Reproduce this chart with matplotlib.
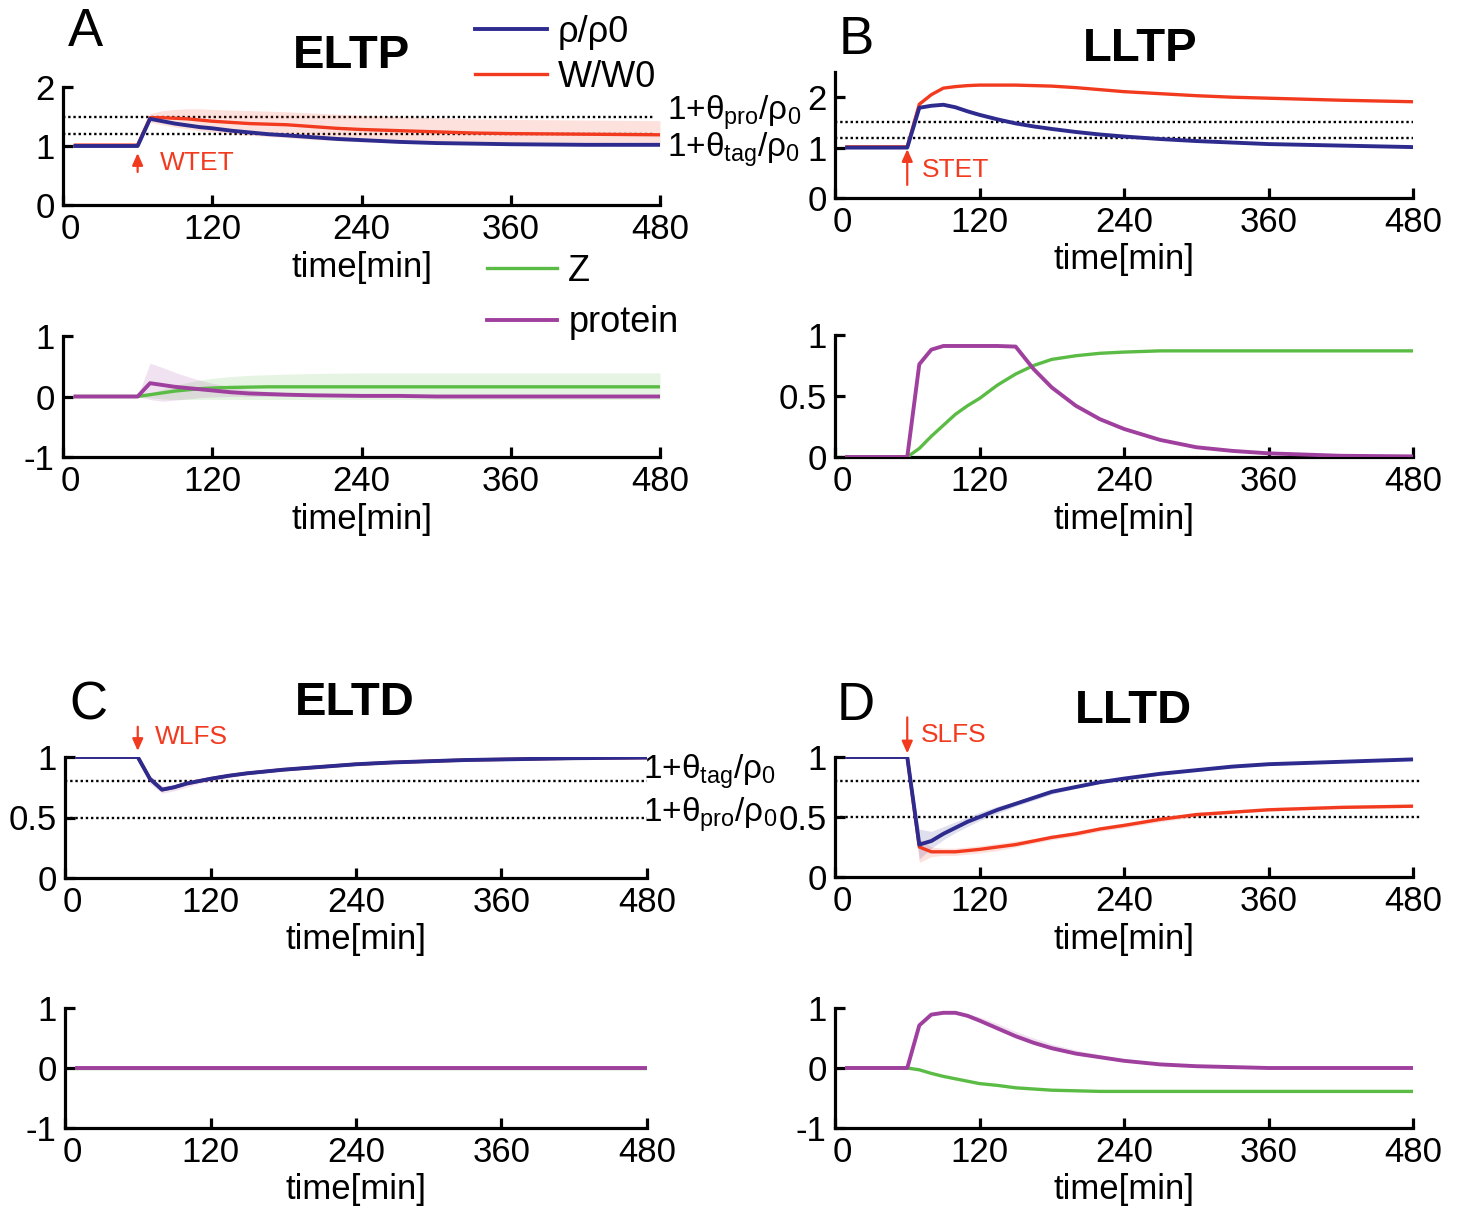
import numpy as np
import matplotlib
matplotlib.use('Agg')
import matplotlib.pyplot as plt
import matplotlib.transforms as mtransforms

plt.rcParams['font.family'] = ['Liberation Sans', 'DejaVu Sans']
plt.rcParams['mathtext.fontset'] = 'custom'
plt.rcParams['mathtext.rm'] = 'Liberation Sans'
plt.rcParams['mathtext.it'] = 'Liberation Sans:italic'
plt.rcParams['axes.unicode_minus'] = False

W_PX, H_PX = 1461, 1206

BLUE = '#2E2B8E'
RED = '#F23A1F'
GREEN = '#5BBC45'
PURPLE = '#A0409E'

# time points [min]
T = [10, 60, 70, 80, 90, 100, 110, 120, 135, 150, 165, 180, 200, 220, 240, 270, 300, 330, 360, 420, 480]

# ---- A: ELTP ----
eltp_rho = [1, 1, 1.46, 1.42, 1.38, 1.35, 1.32, 1.30, 1.26, 1.23, 1.20, 1.18, 1.15, 1.12, 1.10, 1.07, 1.05, 1.04, 1.03, 1.02, 1.02]
eltp_w = [1.015, 1.015, 1.48, 1.48, 1.47, 1.46, 1.44, 1.42, 1.40, 1.38, 1.37, 1.36, 1.33, 1.30, 1.28, 1.26, 1.24, 1.22, 1.21, 1.20, 1.19]
eltp_w_lo = [1.015, 1.015, 1.40, 1.36, 1.32, 1.29, 1.26, 1.24, 1.21, 1.18, 1.16, 1.14, 1.11, 1.09, 1.07, 1.05, 1.04, 1.03, 1.02, 1.01, 1.0]
eltp_w_hi = [1.015, 1.015, 1.55, 1.60, 1.62, 1.63, 1.63, 1.62, 1.61, 1.60, 1.59, 1.58, 1.56, 1.54, 1.52, 1.50, 1.48, 1.46, 1.45, 1.44, 1.43]
eltp_z = [0, 0, 0.03, 0.06, 0.09, 0.11, 0.13, 0.14, 0.15, 0.155, 0.16, 0.16, 0.16, 0.16, 0.16, 0.16, 0.16, 0.16, 0.16, 0.16, 0.16]
eltp_z_lo = [0, 0, -0.02, -0.04, -0.05, -0.05, -0.05, -0.05, -0.05, -0.05, -0.05, -0.05, -0.05, -0.05, -0.05, -0.05, -0.05, -0.05, -0.05, -0.05, -0.05]
eltp_z_hi = [0, 0, 0.06, 0.12, 0.18, 0.23, 0.27, 0.30, 0.33, 0.35, 0.36, 0.37, 0.38, 0.385, 0.39, 0.39, 0.39, 0.39, 0.39, 0.39, 0.39]
eltp_p = [0, 0, 0.22, 0.19, 0.16, 0.14, 0.12, 0.10, 0.07, 0.05, 0.04, 0.03, 0.02, 0.015, 0.01, 0.01, 0, 0, 0, 0, 0]
eltp_p_lo = [0, 0, -0.05, -0.08, -0.06, -0.04, -0.02, -0.01, 0, 0, 0, 0, 0, 0, 0, 0, 0, 0, 0, 0, 0]
eltp_p_hi = [0, 0, 0.55, 0.48, 0.40, 0.33, 0.27, 0.22, 0.16, 0.11, 0.08, 0.06, 0.04, 0.03, 0.02, 0.02, 0.01, 0.01, 0.01, 0.01, 0.01]

# ---- B: LLTP ----
lltp_rho = [1, 1, 1.79, 1.83, 1.85, 1.80, 1.72, 1.65, 1.56, 1.48, 1.42, 1.37, 1.31, 1.26, 1.22, 1.17, 1.13, 1.10, 1.07, 1.04, 1.01]
lltp_w = [1.015, 1.015, 1.86, 2.05, 2.18, 2.21, 2.23, 2.24, 2.24, 2.24, 2.23, 2.22, 2.19, 2.15, 2.11, 2.07, 2.03, 2.0, 1.98, 1.94, 1.91]
lltp_z = [0, 0, 0.07, 0.17, 0.26, 0.35, 0.42, 0.48, 0.59, 0.68, 0.75, 0.80, 0.83, 0.85, 0.86, 0.87, 0.87, 0.87, 0.87, 0.87, 0.87]
lltp_p = [0, 0, 0.76, 0.88, 0.91, 0.91, 0.91, 0.91, 0.91, 0.905, 0.72, 0.57, 0.42, 0.31, 0.23, 0.14, 0.08, 0.05, 0.03, 0.01, 0.005]

# ---- C: ELTD ----
eltd_rho = [1, 1, 0.82, 0.73, 0.75, 0.78, 0.80, 0.82, 0.845, 0.865, 0.88, 0.895, 0.91, 0.925, 0.94, 0.955, 0.965, 0.975, 0.98, 0.99, 0.995]
eltd_w = [1, 1, 0.82, 0.73, 0.75, 0.78, 0.80, 0.82, 0.845, 0.865, 0.88, 0.895, 0.91, 0.925, 0.94, 0.955, 0.965, 0.975, 0.98, 0.99, 0.995]
eltd_lo = [1, 1, 0.78, 0.70, 0.72, 0.75, 0.78, 0.80, 0.83, 0.855, 0.87, 0.89, 0.905, 0.92, 0.935, 0.95, 0.96, 0.97, 0.978, 0.988, 0.993]
eltd_hi = [1, 1, 0.85, 0.76, 0.77, 0.80, 0.82, 0.84, 0.86, 0.875, 0.89, 0.90, 0.915, 0.93, 0.945, 0.96, 0.97, 0.98, 0.983, 0.992, 0.997]
eltd_z = [0, 0, 0, 0, 0, 0, 0, 0, 0, 0, 0, 0, 0, 0, 0, 0, 0, 0, 0, 0, 0]
eltd_p = [0, 0, 0, 0, 0, 0, 0, 0, 0, 0, 0, 0, 0, 0, 0, 0, 0, 0, 0, 0, 0]

# ---- D: LLTD ----
lltd_rho = [1, 1, 0.27, 0.30, 0.36, 0.41, 0.46, 0.50, 0.56, 0.61, 0.66, 0.71, 0.75, 0.79, 0.82, 0.86, 0.89, 0.92, 0.94, 0.96, 0.98]
lltd_rho_lo = [1, 1, 0.15, 0.24, 0.31, 0.37, 0.42, 0.47, 0.53, 0.59, 0.64, 0.69, 0.74, 0.78, 0.81, 0.85, 0.88, 0.91, 0.93, 0.955, 0.975]
lltd_rho_hi = [1, 1, 0.40, 0.38, 0.42, 0.46, 0.50, 0.54, 0.59, 0.63, 0.68, 0.72, 0.76, 0.80, 0.83, 0.87, 0.90, 0.93, 0.95, 0.965, 0.985]
lltd_w = [1, 1, 0.25, 0.21, 0.21, 0.21, 0.22, 0.23, 0.25, 0.27, 0.30, 0.33, 0.36, 0.40, 0.43, 0.48, 0.52, 0.54, 0.56, 0.58, 0.59]
lltd_w_lo = [1, 1, 0.12, 0.17, 0.18, 0.18, 0.19, 0.20, 0.22, 0.25, 0.28, 0.31, 0.34, 0.38, 0.41, 0.46, 0.50, 0.53, 0.55, 0.57, 0.58]
lltd_w_hi = [1, 1, 0.32, 0.25, 0.24, 0.24, 0.25, 0.26, 0.28, 0.30, 0.32, 0.35, 0.38, 0.42, 0.45, 0.50, 0.54, 0.56, 0.58, 0.60, 0.61]
lltd_z = [0, 0, -0.03, -0.09, -0.14, -0.18, -0.22, -0.26, -0.29, -0.33, -0.35, -0.37, -0.38, -0.39, -0.39, -0.39, -0.39, -0.39, -0.39, -0.39, -0.39]
lltd_p = [0, 0, 0.71, 0.89, 0.92, 0.92, 0.87, 0.79, 0.66, 0.53, 0.42, 0.33, 0.24, 0.18, 0.12, 0.06, 0.03, 0.015, 0, 0, 0]
lltd_p_lo = [0, 0, 0.71, 0.89, 0.92, 0.91, 0.86, 0.77, 0.63, 0.50, 0.39, 0.30, 0.22, 0.16, 0.11, 0.05, 0.02, 0.01, 0, 0, 0]
lltd_p_hi = [0, 0, 0.71, 0.89, 0.92, 0.93, 0.91, 0.85, 0.74, 0.61, 0.50, 0.40, 0.30, 0.22, 0.15, 0.08, 0.04, 0.02, 0.01, 0, 0]

THETA_TAG_LTP, THETA_PRO_LTP = 1.2, 1.5
THETA_TAG_LTD, THETA_PRO_LTD = 0.8, 0.5
XTICKS = [0, 120, 240, 360, 480]


def add_axes_px(fig, x0, x1, ytop, ybot):
    return fig.add_axes([x0 / W_PX, 1 - ybot / H_PX, (x1 - x0) / W_PX, (ybot - ytop) / H_PX])


def style_axes(ax, ylim, yticks, yticklabels=None):
    ax.set_xlim(0, 480)
    ax.set_ylim(*ylim)
    ax.set_xticks(XTICKS)
    ax.set_yticks(yticks)
    if yticklabels is not None:
        ax.set_yticklabels(yticklabels)
    for s in ['top', 'right']:
        ax.spines[s].set_visible(False)
    for s in ['left', 'bottom']:
        ax.spines[s].set_linewidth(2.3)
    ax.tick_params(direction='in', length=7, width=2.3, labelsize=25)
    ax.tick_params(axis='x', pad=6)
    ax.tick_params(axis='y', pad=6)
    ax.set_xlabel('time[min]', fontsize=25, labelpad=3)
    ax.patch.set_alpha(0)
    # first x label sits a little right of the spine
    lab0 = ax.get_xticklabels()[0]
    lab0.set_transform(lab0.get_transform() + mtransforms.ScaledTranslation(7 / 100, 0, ax.figure.dpi_scale_trans))


def thresholds(ax, levels, xend):
    for y in levels:
        ax.hlines(y, 0, xend, colors='k', linestyles=(0, (1, 1.2)), lw=1.7, clip_on=False, zorder=1)


def band(ax, lo, hi, color):
    ax.fill_between(T, lo, hi, color=color, alpha=0.15, lw=0, zorder=2)


def stim_arrow(ax, y_from, y_to, label, lx, ly):
    ax.annotate('', xy=(60, y_to), xytext=(60, y_from),
                arrowprops=dict(arrowstyle='-|>,head_length=0.45,head_width=0.2', color=RED, lw=1.6,
                                mutation_scale=16, shrinkA=0, shrinkB=0),
                annotation_clip=False)
    ax.text(lx, ly, label, color=RED, fontsize=19, ha='left', va='center')


fig = plt.figure(figsize=(W_PX / 100, H_PX / 100), dpi=100)

# ---------- A ----------
axA = add_axes_px(fig, 63, 660, 87, 205)
thresholds(axA, [THETA_PRO_LTP, THETA_TAG_LTP], 476)
band(axA, eltp_w_lo, eltp_w_hi, RED)
lw_line, = axA.plot(T, eltp_w, color=RED, lw=2.4, zorder=3)
rho_line, = axA.plot(T, eltp_rho, color=BLUE, lw=2.8, zorder=4)
style_axes(axA, (0, 2), [0, 1, 2])
stim_arrow(axA, 0.56, 0.88, 'WTET', 78, 0.71)
axA.text(486, 1.56, r'1+$\mathrm{\theta_{pro}/\rho_0}$', fontsize=24, ha='left', va='center')
axA.text(486, 0.93, r'1+$\mathrm{\theta_{tag}/\rho_0}$', fontsize=24, ha='left', va='center')

axA2 = add_axes_px(fig, 63, 660, 336, 457)
band(axA2, eltp_z_lo, eltp_z_hi, GREEN)
band(axA2, eltp_p_lo, eltp_p_hi, PURPLE)
z_line, = axA2.plot(T, eltp_z, color=GREEN, lw=2.4, zorder=3)
p_line, = axA2.plot(T, eltp_p, color=PURPLE, lw=2.8, zorder=4)
style_axes(axA2, (-1, 1), [-1, 0, 1])

# ---------- B ----------
axB = add_axes_px(fig, 835, 1413, 72, 198)
thresholds(axB, [THETA_PRO_LTP, THETA_TAG_LTP], 480)
axB.plot(T, lltp_w, color=RED, lw=2.4, zorder=3)
axB.plot(T, lltp_rho, color=BLUE, lw=2.8, zorder=4)
style_axes(axB, (0, 2.5), [0, 1, 2])
stim_arrow(axB, 0.26, 0.97, 'STET', 72, 0.55)

axB2 = add_axes_px(fig, 835, 1413, 335, 457)
axB2.plot(T, lltp_z, color=GREEN, lw=2.4, zorder=3)
axB2.plot(T, lltp_p, color=PURPLE, lw=2.8, zorder=4)
style_axes(axB2, (0, 1), [0, 0.5, 1], ['0', '0.5', '1'])

# ---------- C ----------
axC = add_axes_px(fig, 65, 647, 757, 878)
thresholds(axC, [THETA_TAG_LTD, THETA_PRO_LTD], 480)
band(axC, eltd_lo, eltd_hi, PURPLE)
axC.plot(T, eltd_w, color=RED, lw=2.4, zorder=3)
axC.plot(T, eltd_rho, color=BLUE, lw=2.8, zorder=4)
style_axes(axC, (0, 1), [0, 0.5, 1], ['0', '0.5', '1'])
stim_arrow(axC, 1.25, 1.05, 'WLFS', 74, 1.165)
axC.text(477, 0.875, r'1+$\mathrm{\theta_{tag}/\rho_0}$', fontsize=24, ha='left', va='center')
axC.text(477, 0.52, r'1+$\mathrm{\theta_{pro}/\rho_0}$', fontsize=24, ha='left', va='center')

axC2 = add_axes_px(fig, 65, 647, 1008, 1128)
axC2.plot(T, eltd_z, color=GREEN, lw=2.4, zorder=3)
axC2.plot(T, eltd_p, color=PURPLE, lw=2.8, zorder=4)
style_axes(axC2, (-1, 1), [-1, 0, 1])

# ---------- D ----------
axD = add_axes_px(fig, 835, 1413, 757, 877)
thresholds(axD, [THETA_TAG_LTD, THETA_PRO_LTD], 486)
band(axD, lltd_w_lo, lltd_w_hi, RED)
band(axD, lltd_rho_lo, lltd_rho_hi, BLUE)
axD.plot(T, lltd_w, color=RED, lw=2.4, zorder=3)
axD.plot(T, lltd_rho, color=BLUE, lw=2.8, zorder=4)
style_axes(axD, (0, 1), [0, 0.5, 1], ['0', '0.5', '1'])
stim_arrow(axD, 1.33, 1.03, 'SLFS', 71, 1.18)

axD2 = add_axes_px(fig, 835, 1413, 1008, 1128)
band(axD2, lltd_p_lo, lltd_p_hi, PURPLE)
axD2.plot(T, lltd_z, color=GREEN, lw=2.4, zorder=3)
axD2.plot(T, lltd_p, color=PURPLE, lw=2.8, zorder=4)
style_axes(axD2, (-1, 1), [-1, 0, 1])

# titles and panel letters
for label, x, y in [('ELTP', 352, 56), ('LLTP', 1140, 49), ('ELTD', 355, 703), ('LLTD', 1133, 711)]:
    fig.text(x / W_PX, 1 - y / H_PX, label, fontsize=34, fontweight='bold', ha='center', va='center')
for label, x, y in [('A', 85, 32), ('B', 856, 40), ('C', 88, 705), ('D', 856, 706)]:
    fig.text(x / W_PX, 1 - y / H_PX, label, fontsize=38, ha='center', va='center')

# legends
fig.legend([rho_line, lw_line], ['ρ/ρ0', 'W/W0'], loc='upper left',
           bbox_to_anchor=(475 / W_PX, 1 - 15 / H_PX), frameon=False, fontsize=26,
           handlelength=2.0, handletextpad=0.3, labelspacing=0.28, borderpad=0, borderaxespad=0)
fig.legend([z_line, p_line], ['Z', 'protein'], loc='upper left',
           bbox_to_anchor=(487 / W_PX, 1 - 254 / H_PX), frameon=False, fontsize=26,
           handlelength=1.95, handletextpad=0.3, labelspacing=0.45, borderpad=0, borderaxespad=0)

fig.savefig('out.png', dpi=100)
